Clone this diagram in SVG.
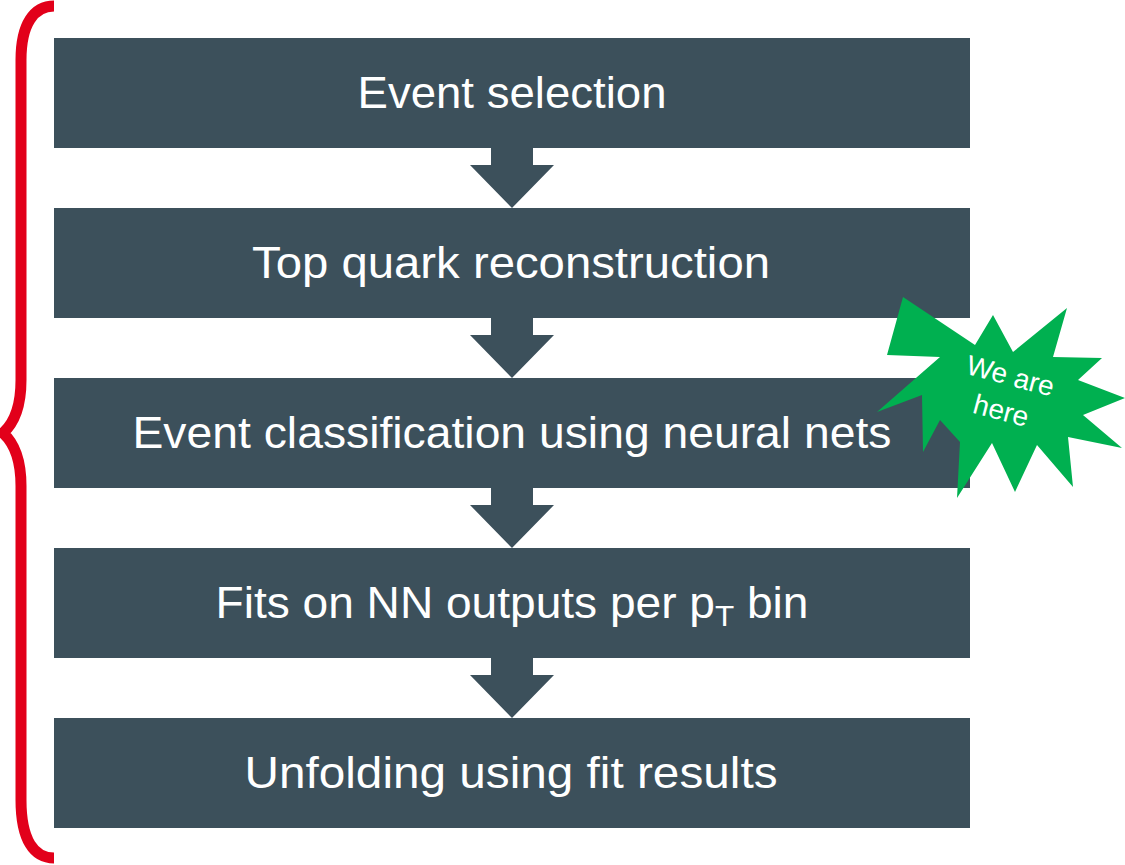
<svg xmlns="http://www.w3.org/2000/svg" width="1125" height="865" viewBox="0 0 1125 865">
  <style>
    .box { fill: #3C505B; }
    .lbl { fill: #FFFFFF; font-family: "Liberation Sans", Arial, sans-serif; font-size: 44px; text-anchor: middle; }
    .flow { fill: #3C505B; }
    .star { fill: #00B050; }
    .starlbl { fill: #FFFFFF; font-family: "Liberation Sans", Arial, sans-serif; font-size: 28px; text-anchor: middle; }
  </style>
  <defs>
    <!-- block arrow pointing down, origin at top centre -->
    <path id="downArrow" d="M -21 0 H 21 V 17 H 42 L 0 60 L -42 17 H -21 Z"/>
  </defs>
  <rect width="1125" height="865" fill="#FFFFFF"/>

  <!-- curly brace spanning the whole chain -->
  <path id="brace" d="M 54 6 C 34 6 21 24 21 60 L 21 380 C 21 410 12 425 3 433 C 12 441 21 456 21 486 L 21 800 C 21 840 34 858 54 858" fill="none" stroke="#E2001A" stroke-width="11"/>

  <g id="connectors">
    <use href="#downArrow" class="flow" x="512" y="148"/>
    <use href="#downArrow" class="flow" x="512" y="318"/>
    <use href="#downArrow" class="flow" x="512" y="488"/>
    <use href="#downArrow" class="flow" x="512" y="658"/>
  </g>

  <g id="step1">
    <rect class="box" x="54" y="38" width="916" height="110"/>
    <text class="lbl" x="512" y="108" textLength="309" lengthAdjust="spacingAndGlyphs">Event selection</text>
  </g>
  <g id="step2">
    <rect class="box" x="54" y="208" width="916" height="110"/>
    <text class="lbl" x="511" y="278" textLength="518" lengthAdjust="spacingAndGlyphs">Top quark reconstruction</text>
  </g>
  <g id="step3">
    <rect class="box" x="54" y="378" width="916" height="110"/>
    <text class="lbl" x="512" y="448" textLength="759" lengthAdjust="spacingAndGlyphs">Event classification using neural nets</text>
  </g>
  <g id="step4">
    <rect class="box" x="54" y="548" width="916" height="110"/>
    <text class="lbl" x="512" y="618" textLength="593" lengthAdjust="spacingAndGlyphs">Fits on NN outputs per p<tspan font-size="30" dy="8">T</tspan><tspan dy="-8"> bin</tspan></text>
  </g>
  <g id="step5">
    <rect class="box" x="54" y="718" width="916" height="110"/>
    <text class="lbl" x="511" y="788" textLength="533" lengthAdjust="spacingAndGlyphs">Unfolding using fit results</text>
  </g>

  <g id="marker-star">
    <polygon class="star" points="903,297 975,345 993,315 1013,352 1067,308 1053,357 1102,358 1078,380 1125,398 1083,415 1122,448 1068,437 1073,487 1037,445 1015,492 992,443 957,498 960,442 940,420 923,452 922,395 877,412 940,357 887,355"/>
    <g transform="translate(1008,385) rotate(15)">
      <text class="starlbl" x="0" y="0">We are</text>
      <text class="starlbl" x="0" y="36">here</text>
    </g>
  </g>
</svg>
